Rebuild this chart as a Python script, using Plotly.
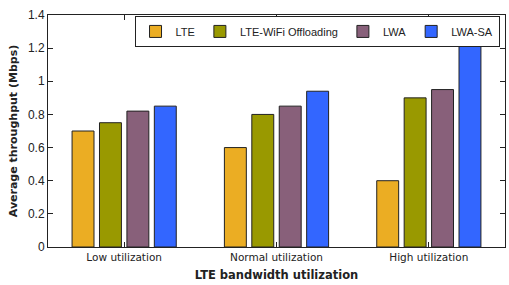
import plotly.graph_objects as go

categories = ["Low utilization", "Normal utilization", "High utilization"]
series_names = ["LTE", "LTE-WiFi Offloading", "LWA", "LWA-SA"]
lte = [0.70, 0.60, 0.40]
lte_wifi = [0.75, 0.80, 0.90]
lwa = [0.82, 0.85, 0.95]
lwa_sa = [0.85, 0.94, 1.21]
colors = ["#EBAD23", "#999900", "#88607A", "#3366FF"]
yticks = [0, 0.2, 0.4, 0.6, 0.8, 1, 1.2, 1.4]

fig = go.Figure()
for name, vals, col in zip(series_names, [lte, lte_wifi, lwa, lwa_sa], colors):
    fig.add_trace(go.Bar(
        x=categories, y=vals, name=name,
        marker=dict(color=col, line=dict(color="#222222", width=1)),
    ))

fig.update_layout(
    width=509, height=285,
    margin=dict(l=48, r=4, t=15, b=38, autoexpand=False),
    paper_bgcolor="white", plot_bgcolor="white",
    barmode="group", bargap=0.28, bargroupgap=0.2,
    font=dict(family="Liberation Sans, Arial", size=11, color="#222222"),
    showlegend=True,
    legend=dict(
        orientation="h", x=0.988, xanchor="right", y=0.996, yanchor="top",
        bgcolor="white", bordercolor="#222222", borderwidth=1,
        font=dict(size=11, family="Liberation Sans, Arial"),
        tracegroupgap=0, itemwidth=30,
    ),
    xaxis=dict(
        showline=True, linecolor="#222222", linewidth=1, mirror="ticks",
        ticks="inside", ticklen=5, tickcolor="#222222",
        tickfont=dict(family="DejaVu Sans", size=10.5),
        title=dict(text="<b>LTE bandwidth utilization</b>", font=dict(family="DejaVu Sans", size=11.5), standoff=9),
        range=[-0.5, 2.5], automargin=False,
    ),
    yaxis=dict(
        showline=True, linecolor="#222222", linewidth=1, mirror="ticks",
        ticks="inside", ticklen=5, tickcolor="#222222",
        range=[0, 1.4], tickvals=yticks, ticktext=[f"{v:g}" for v in yticks],
        showgrid=False, zeroline=False,
        tickfont=dict(family="Liberation Sans, Arial", size=12),
        title=dict(text="<b>Average throughput (Mbps)</b>", font=dict(family="DejaVu Sans", size=11), standoff=8),
        automargin=False,
    ),
)

fig.write_html("out.html", config={"displayModeBar": False},
               post_script="document.body.style.margin='0';")
